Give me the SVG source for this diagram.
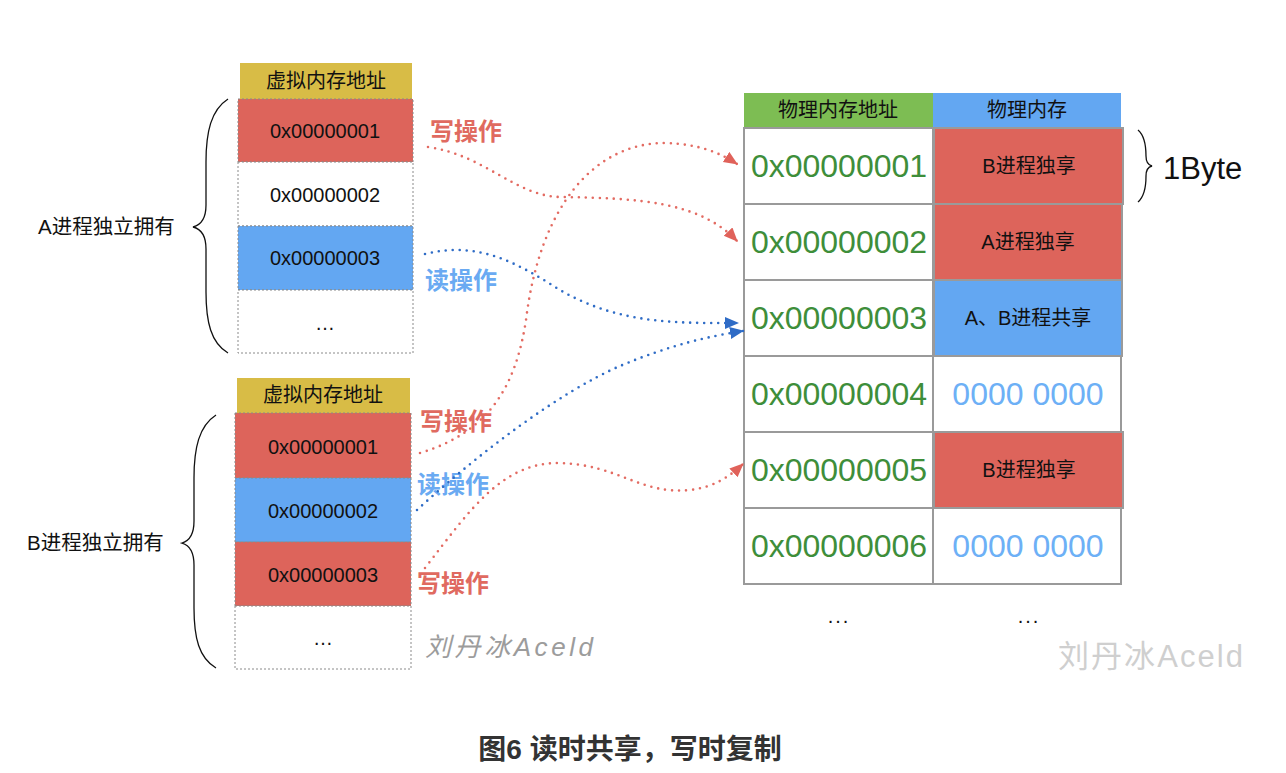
<svg xmlns="http://www.w3.org/2000/svg" width="1286" height="773" viewBox="0 0 1286 773">
  <style>
    .cjk { font-family: "Liberation Sans", "Noto Sans CJK SC", sans-serif; }
    .vhead { fill: #D8BC46; }
    .cell { stroke: #8a8a8a; stroke-width: 1; stroke-dasharray: 2 2; }
    .red { fill: #DD645B; }
    .blue { fill: #63A7F2; }
    .white { fill: #ffffff; }
    .vtxt { font-size: 20px; fill: #111; text-anchor: middle; }
    .ptxt { font-size: 32px; fill: #3E8E3A; text-anchor: middle; }
    .ztxt { font-size: 32px; fill: #6DB0F6; text-anchor: middle; }
    .ltxt { font-size: 20px; fill: #111; text-anchor: middle; }
    .dots { font-size: 20px; fill: #111; text-anchor: middle; letter-spacing: 2px; }
    .pcell { stroke: #9a9a9a; stroke-width: 2; }
    .op { font-size: 24px; font-weight: bold; }
    .opw { fill: #E06A60; }
    .opr { fill: #6AAAF2; }
    .brace { fill: none; stroke: #111; stroke-width: 1.3; }
    .dotr { fill: none; stroke: #E36B62; stroke-width: 2.6; stroke-linecap: round; stroke-dasharray: 0 7; }
    .dotb { fill: none; stroke: #2F6CC6; stroke-width: 2.6; stroke-linecap: round; stroke-dasharray: 0 7; }
  </style>
  <defs>
    <marker id="arrR" markerUnits="userSpaceOnUse" markerWidth="16" markerHeight="14" refX="13" refY="6" orient="auto">
      <path d="M0,0 L14,6 L0,12 Z" fill="#E0625A"/>
    </marker>
    <marker id="arrB" markerUnits="userSpaceOnUse" markerWidth="16" markerHeight="14" refX="13" refY="6" orient="auto">
      <path d="M0,0 L14,6 L0,12 Z" fill="#2F6CC6"/>
    </marker>
  </defs>

  <rect width="1286" height="773" fill="#ffffff"/>

  <!-- process A virtual address table -->
  <g id="vtable-a" class="cjk">
    <rect class="vhead" x="240" y="63" width="172" height="36"/>
    <text class="vtxt" x="326" y="88">虚拟内存地址</text>
    <rect class="cell red" x="238" y="99" width="175" height="63"/>
    <text class="vtxt" x="325" y="138">0x00000001</text>
    <rect class="cell white" x="238" y="162" width="175" height="64"/>
    <text class="vtxt" x="325" y="202">0x00000002</text>
    <rect class="cell blue" x="238" y="226" width="175" height="64"/>
    <text class="vtxt" x="325" y="265">0x00000003</text>
    <rect class="cell white" x="238" y="290" width="175" height="63"/>
    <text class="vtxt" x="325" y="330">…</text>
  </g>

  <g id="brace-a" class="cjk">
    <path class="brace" d="M228,99 C211,110 206,132 206,162 L206,205 C206,218 201,225 193,227 C201,229 206,236 206,249 L206,292 C206,322 211,343 228,353"/>
    <text x="38" y="234" font-size="20.5" fill="#111">A进程独立拥有</text>
  </g>

  <!-- process B virtual address table -->
  <g id="vtable-b" class="cjk">
    <rect class="vhead" x="237" y="378" width="173" height="35"/>
    <text class="vtxt" x="323" y="402">虚拟内存地址</text>
    <rect class="cell red" x="235" y="413" width="176" height="65"/>
    <text class="vtxt" x="323" y="454">0x00000001</text>
    <rect class="cell blue" x="235" y="478" width="176" height="64"/>
    <text class="vtxt" x="323" y="518">0x00000002</text>
    <rect class="cell red" x="235" y="542" width="176" height="64"/>
    <text class="vtxt" x="323" y="582">0x00000003</text>
    <rect class="cell white" x="235" y="606" width="176" height="63"/>
    <text class="vtxt" x="323" y="645">…</text>
  </g>

  <g id="brace-b" class="cjk">
    <path class="brace" d="M216,415 C199,426 194,448 194,478 L194,521 C194,534 189,541 182,543 C189,545 194,552 194,565 L194,608 C194,638 199,658 216,668"/>
    <text x="27" y="550" font-size="20.5" fill="#111">B进程独立拥有</text>
  </g>

  <!-- operation labels -->
  <g id="op-labels" class="cjk op">
    <text class="opw" x="430" y="140">写操作</text>
    <text class="opr" x="425" y="289">读操作</text>
    <text class="opw" x="420" y="430">写操作</text>
    <text class="opr" x="417" y="493">读操作</text>
    <text class="opw" x="417" y="592">写操作</text>
  </g>

  <!-- physical memory table -->
  <g id="ptable" class="cjk">
    <rect x="744" y="93" width="189" height="35" fill="#7DBD53"/>
    <text class="ltxt" x="838" y="117">物理内存地址</text>
    <rect x="933" y="93" width="188" height="35" fill="#63A7F2"/>
    <text class="ltxt" x="1027" y="117">物理内存</text>

    <rect class="pcell white" x="744" y="128" width="189" height="76"/>
    <text class="ptxt" x="839" y="177">0x00000001</text>
    <rect class="pcell white" x="744" y="204" width="189" height="76"/>
    <text class="ptxt" x="839" y="253">0x00000002</text>
    <rect class="pcell white" x="744" y="280" width="189" height="76"/>
    <text class="ptxt" x="839" y="329">0x00000003</text>
    <rect class="pcell white" x="744" y="356" width="189" height="76"/>
    <text class="ptxt" x="839" y="405">0x00000004</text>
    <rect class="pcell white" x="744" y="432" width="189" height="76"/>
    <text class="ptxt" x="839" y="481">0x00000005</text>
    <rect class="pcell white" x="744" y="508" width="189" height="76"/>
    <text class="ptxt" x="839" y="557">0x00000006</text>

    <rect class="pcell red" x="934" y="128" width="189" height="76"/>
    <text class="ltxt" x="1029" y="173">B进程独享</text>
    <rect class="pcell red" x="934" y="204" width="188" height="76"/>
    <text class="ltxt" x="1028" y="249">A进程独享</text>
    <rect class="pcell blue" x="934" y="280" width="188" height="76"/>
    <text class="ltxt" x="1028" y="325">A、B进程共享</text>
    <rect class="pcell white" x="933" y="356" width="188" height="76"/>
    <text class="ztxt" x="1028" y="405">0000 0000</text>
    <rect class="pcell red" x="934" y="432" width="189" height="76"/>
    <text class="ltxt" x="1029" y="477">B进程独享</text>
    <rect class="pcell white" x="933" y="508" width="188" height="76"/>
    <text class="ztxt" x="1028" y="557">0000 0000</text>

    <text class="dots" x="839" y="623">...</text>
    <text class="dots" x="1029" y="623">...</text>
  </g>

  <g id="byte-brace" class="cjk">
    <path class="brace" d="M1138,130 C1145,136 1146,146 1146,156 C1146,162 1148,165 1152,166 C1148,167 1146,170 1146,176 C1146,186 1145,196 1138,202"/>
    <text x="1163" y="179" font-size="31" fill="#111">1Byte</text>
  </g>

  <!-- read/write mapping connectors -->
  <g id="connectors">
    <path class="dotr" marker-end="url(#arrR)" d="M428,147 C485,155 515,196 560,197 C640,198 700,202 737,241"/>
    <path class="dotr" marker-end="url(#arrR)" d="M420,453 C490,432 516,385 526,320 C540,205 595,143 665,143 C700,144 720,153 737,164"/>
    <path class="dotb" marker-end="url(#arrB)" d="M425,254 C480,240 520,265 560,290 C620,325 680,323 738,323"/>
    <path class="dotb" marker-end="url(#arrB)" d="M417,510 C480,452 560,392 620,366 C670,345 710,336 743,331"/>
    <path class="dotr" marker-end="url(#arrR)" d="M425,568 C470,510 502,462 560,463 C620,465 640,495 690,490 C715,487 730,476 743,464"/>
  </g>

  <!-- author marks -->
  <g id="author" class="cjk">
    <text x="425" y="656" font-size="26" font-style="italic" fill="#9c9c9c" textLength="168">刘丹冰Aceld</text>
    <text x="1058" y="667" font-size="31" fill="#cfcfcf" textLength="185">刘丹冰Aceld</text>
  </g>

  <g id="caption" class="cjk">
    <text x="630" y="759" font-size="28" font-weight="bold" fill="#333" text-anchor="middle">图6 读时共享，写时复制</text>
  </g>
</svg>
